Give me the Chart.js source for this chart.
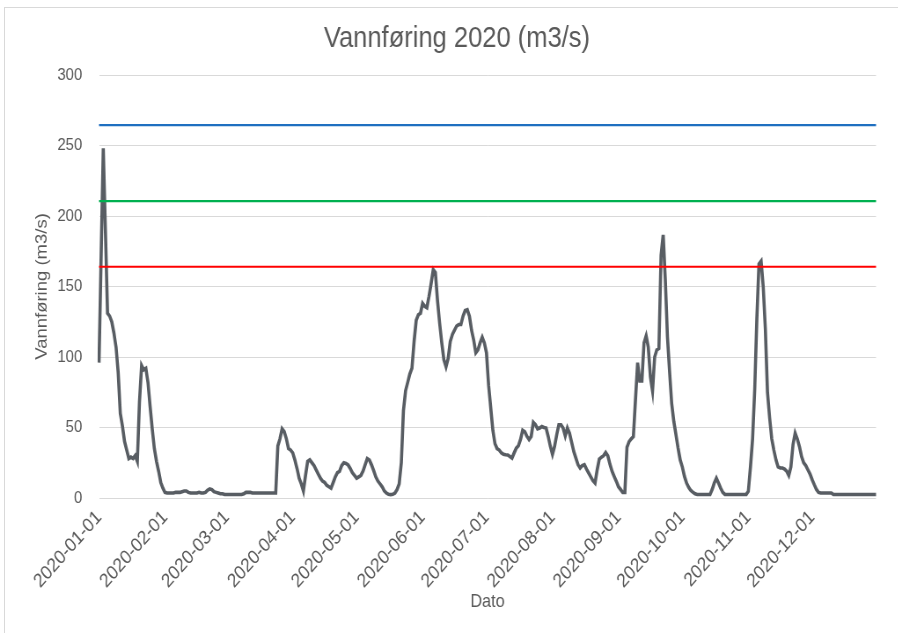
<!DOCTYPE html>
<html>
<head>
<meta charset="utf-8">
<script src="https://cdn.jsdelivr.net/npm/chart.js"></script>
<style>
  html, body { margin: 0; padding: 0; background: #fff; }
  #wrap { position: relative; width: 898px; height: 633px; overflow: hidden; }
  #frame { position: absolute; left: 4px; top: 7px; width: 920px; height: 650px;
           border-left: 1px solid #d9d9d9; border-top: 1px solid #d9d9d9; }
  /* the picture is a little squeezed sideways, so draw wide and scale down */
  #squeeze { position: absolute; left: 0; top: 0; width: 1020px; height: 633px;
             transform: scaleX(0.88); transform-origin: 0 0; }
</style>
</head>
<body>
<div id="wrap">
  <div id="frame"></div>
  <div id="squeeze"><canvas id="myChart" width="1020" height="633"></canvas></div>
</div>
<script>
// daily flow (m3/s), one array per month
const jan = [96, 172, 248, 190, 131, 129, 125, 117, 107, 89, 60, 51, 40, 34, 28, 29, 28, 30, 26, 68,
  94, 91, 92, 82, 65, 49, 35, 26, 19, 11, 7];
const feb = [4, 3.5, 3.5, 3.5, 3.5, 4, 4, 4, 4.5, 5, 5, 4, 3.5, 3.5, 3.5, 3.5, 4, 3.5, 3.5, 4,
  5.5, 6.5, 6, 4.5, 4, 3.5, 3, 3, 2.5];
const mar = [2.5, 2.5, 2.5, 2.5, 2.5, 2.5, 2.5, 2.5, 3, 4, 4, 4, 3.5, 3.5, 3.5, 3.5, 3.5, 3.5, 3.5, 3.5,
  3.5, 3.5, 3.5, 3.5, 37, 42, 49, 47, 42, 35, 34];
const apr = [32, 27, 21, 14, 10, 5, 16, 26, 27, 25, 23, 20, 17, 14, 12, 11, 9, 8, 7, 11,
  15, 18, 19, 23, 25, 24.5, 23.5, 21, 18, 16];
const may = [14, 15, 16, 19, 23.5, 28, 27, 23.5, 19.5, 15, 12, 10, 8, 5, 3.5, 2.6, 2.4, 2.6, 3.5, 6,
  10, 25, 62, 76, 82, 88, 92, 111, 126, 130, 131];
const jun = [138, 136, 135, 143, 152, 162, 160, 140, 124, 110, 98, 93, 99, 111, 116, 119, 122, 123, 123, 129,
  133, 133.5, 129, 119, 112, 103, 105, 110, 114, 110];
const jul = [103, 80, 64, 48, 38.5, 35, 34, 32, 31, 30.7, 30.5, 29.5, 28.3, 32, 35.4, 37, 41.5, 48, 47, 43.7,
  41.5, 43.7, 53.6, 52, 49, 49.6, 50.7, 50, 49.6, 43.7, 36.6];
const aug = [31, 36.6, 45, 52, 52, 49.6, 44, 49.6, 46, 39.5, 33, 28.3, 23.6, 21.3, 23, 23.6, 20.5, 17.7, 15, 12.3,
  10.6, 20, 27.6, 29, 30, 32.3, 30, 24, 19, 15.3, 11.8];
const sep = [8, 6, 4, 4, 36, 40, 42, 43.5, 70, 96, 83, 83, 110, 115, 107, 86, 76, 100, 105, 106,
  172, 186.6, 155, 114.5, 90, 67, 54.3, 45, 35.4, 27];
const oct = [22, 15.3, 10.6, 7.5, 5.3, 4, 3, 2.5, 2.5, 2.5, 2.5, 2.5, 2.5, 2.5, 6, 10.6, 14, 10.6, 7, 4,
  2.5, 2.5, 2.5, 2.5, 2.5, 2.5, 2.5, 2.5, 2.5, 2.5, 2.5];
const nov = [4.7, 22, 42, 77, 127, 166, 168, 150, 120, 75, 57, 42, 34, 27, 22, 21.3, 21.3, 20.5, 19, 16,
  22, 38, 46, 42, 36.6, 29.5, 25, 23, 20, 17];
const dec = [13, 9.4, 6, 4, 3.5, 3.5, 3.5, 3.5, 3.5, 3.5, 2.5, 2.5, 2.5, 2.5, 2.5, 2.5, 2.5, 2.5, 2.5, 2.5,
  2.5, 2.5, 2.5, 2.5, 2.5, 2.5, 2.5, 2.5, 2.5, 2.5, 2.5];

const flow = [].concat(jan, feb, mar, apr, may, jun, jul, aug, sep, oct, nov, dec);

// threshold levels
const levelValues = [264.5, 210.5, 164];
const levelColors = ["#1f6fc0", "#00b050", "#ff0000"];

// one category per day of 2020
const startDay = Date.UTC(2020, 0, 1);
const dates = flow.map((v, i) => new Date(startDay + i * 86400000).toISOString().slice(0, 10));

const yTicks = [0, 50, 100, 150, 200, 250, 300];

const txt = "#595959";
const fam = "'Liberation Sans', Arial, sans-serif";

const levelSets = levelValues.map((lv, i) => ({
  label: "level" + i,
  data: dates.map(() => lv),
  borderColor: levelColors[i],
  borderWidth: 2.2,
  pointRadius: 0,
  fill: false,
}));

new Chart("myChart", {
  type: "line",
  data: {
    labels: dates,
    datasets: levelSets.concat([
      {
        label: "Vannføring",
        data: flow,
        borderColor: "#585d63",
        borderWidth: 3.6,
        pointRadius: 0,
        fill: false,
        tension: 0,
      },
    ]),
  },
  options: {
    responsive: false,
    animation: false,
    layout: { padding: { left: 43, right: 24.5, top: 0, bottom: 0 } },
    plugins: {
      legend: { display: false },
      tooltip: { enabled: false },
      title: {
        display: true,
        text: "Vannføring 2020 (m3/s)",
        color: txt,
        font: { family: fam, size: 29, weight: "normal", lineHeight: 1.2 },
        padding: { top: 21.6, bottom: 18.6 },
      },
    },
    scales: {
      x: {
        grid: { display: false, drawTicks: false },
        border: { display: false },
        ticks: {
          autoSkip: false,
          maxRotation: 45,
          minRotation: 45,
          padding: 8,
          color: txt,
          font: { family: fam, size: 19.5 },
          callback: (val, idx) => (dates[idx].endsWith("-01") ? dates[idx] : null),
        },
        title: {
          display: true,
          text: "Dato",
          color: txt,
          font: { family: fam, size: 18.5 },
          padding: { top: 0, bottom: 20 },
        },
        afterFit: (s) => { s.height = 135; },
      },
      y: {
        min: 0,
        max: 300,
        afterBuildTicks: (s) => { s.ticks = yTicks.map((v) => ({ value: v })); },
        grid: { color: "#d9d9d9", lineWidth: 1, drawTicks: false },
        border: { display: false },
        ticks: {
          padding: 19,
          color: txt,
          font: { family: fam, size: 17 },
        },
        title: {
          display: true,
          text: "Vannføring (m3/s)",
          color: txt,
          font: { family: fam, size: 18.5 },
          padding: { top: -6.4, bottom: 0 },
        },
        afterFit: (s) => { s.width = 69.5; },
      },
    },
  },
});
</script>
</body>
</html>
